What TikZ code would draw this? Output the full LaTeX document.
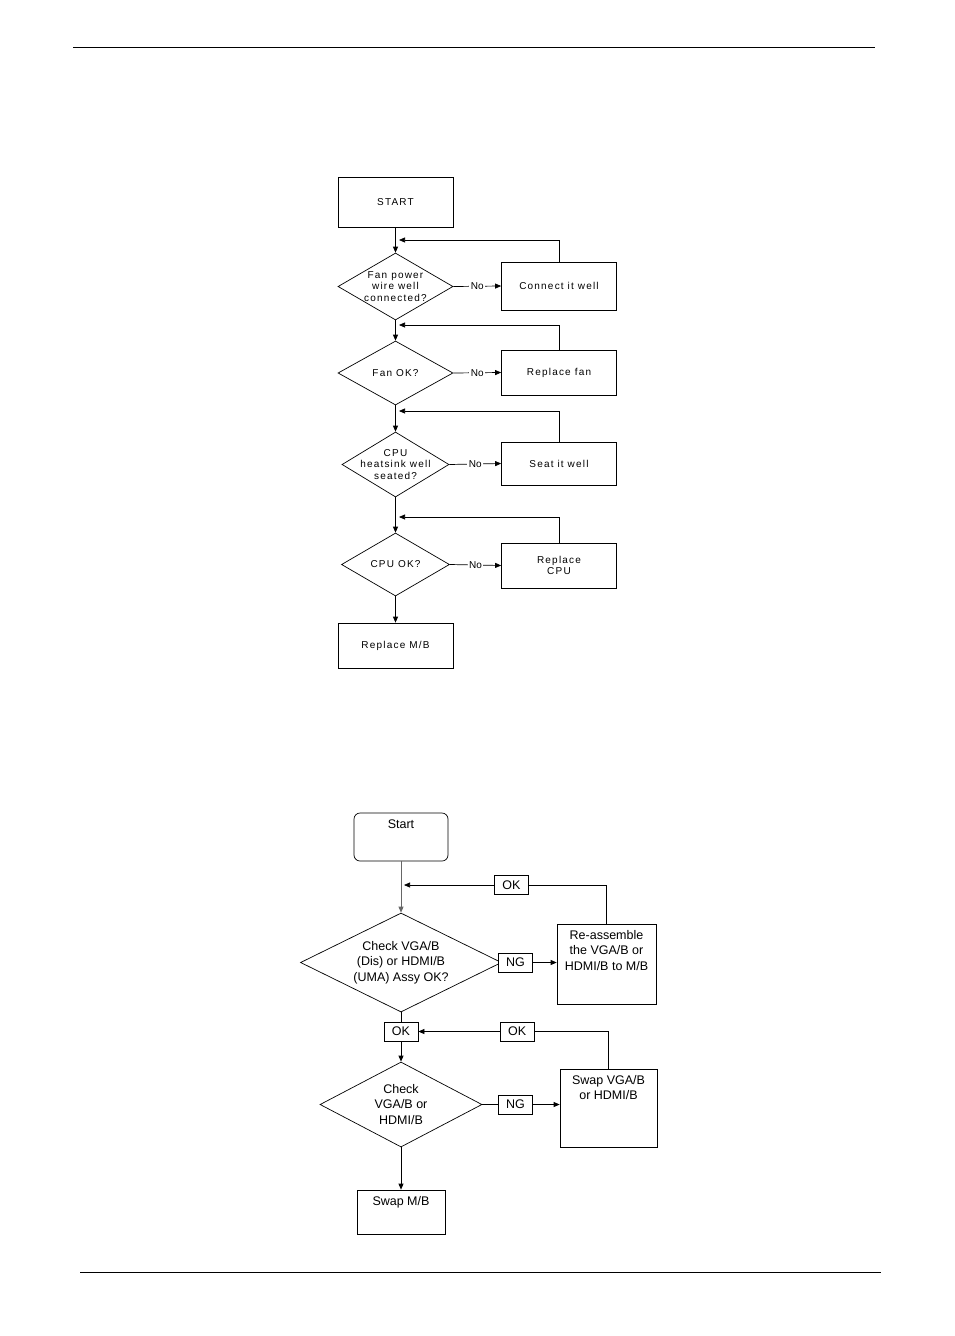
\documentclass[tikz,border=0pt]{standalone}
\usepackage{fontspec}
\setmainfont{Liberation Sans}
\newfontfamily\spacedfont[LetterSpace=12]{Liberation Sans}
\usetikzlibrary{shapes.geometric,calc,arrows.meta}

\newcommand{\topfont}{\fontsize{10}{11.5}\spacedfont}
\newcommand{\lowfont}{\fontsize{12.5}{15.5}\selectfont}

\tikzset{
  box/.style={draw, minimum width=115, minimum height=46, inner sep=0pt, align=center, font=\topfont},
  decision/.style={draw, diamond, inner sep=0pt, minimum width=115, minimum height=65},
  lowbox/.style={draw, inner sep=0pt},
  flow/.style={-{Triangle[length=6pt,width=5pt]}},
  notag/.style={fill=white, inner sep=1.5pt, font=\fontsize{10}{11}\selectfont},
  tag/.style={draw, fill=white, minimum width=34, minimum height=19, inner sep=0pt, font=\lowfont},
  toptext/.style={anchor=north, yshift=-3pt, align=center, font=\lowfont},
}

\begin{document}
\begin{tikzpicture}[x=1pt, y=-1pt, line width=0.7pt]
    \useasboundingbox (0,0) rectangle (954,1336);
    \draw[line width=1pt] (73,47) -- (875,47);
    \draw[line width=1pt] (80,1272) -- (881,1272);

    % first chart
    \node[box, minimum height=50] (start) at (395.5,202) {START};
    \node[decision, minimum height=67,
        label={[align=center, font=\topfont]center:{Fan power\\wire well\\connected?}}]
        (fanpower) at (395.5,286.5) {};
    \node[box, minimum height=48] (connect) at (559,286) {Connect it well};
    \node[decision, minimum height=64,
        label={[font=\topfont]center:{Fan OK?}}] (fanok) at (395.5,373) {};
    \node[box, minimum height=45] (replacefan) at (559,372.5) {Replace fan};
    \node[decision, minimum width=107,
        label={[align=center, font=\topfont]center:{CPU\\heatsink well\\seated?}}]
        (heatsink) at (395.5,464.5) {};
    \node[box, minimum height=43] (seat) at (559,463.5) {Seat it well};
    \node[decision, minimum width=108, minimum height=63,
        label={[font=\topfont]center:{CPU OK?}}] (cpuok) at (395.5,564.5) {};
    \node[box, minimum height=45] (replacecpu) at (559,565.5) {Replace\\CPU};
    \node[box, minimum height=45] (replacemb) at (395.5,645.5) {Replace M/B};

    \coordinate (m1) at (399,240);
    \coordinate (m2) at (399,325);
    \coordinate (m3) at (399,411);
    \coordinate (m4) at (399,517);

    \draw[flow] (start) -- (fanpower);
    \draw[flow] (fanpower) -- (fanok);
    \draw[flow] (fanok) -- (heatsink);
    \draw[flow] (heatsink) -- (cpuok);
    \draw[flow] (cpuok) -- (replacemb);

    \draw[flow] (fanpower.east) -- node[notag] {No} (connect.west);
    \draw[flow] (fanok.east) -- node[notag] {No} (replacefan.west);
    \draw[flow] (heatsink.east) -- node[notag] {No} (seat.west);
    \draw[flow] (cpuok.east) -- node[notag] {No} (replacecpu.west);

    \draw[flow] (connect.north) |- (m1);
    \draw[flow] (replacefan.north) |- (m2);
    \draw[flow] (seat.north) |- (m3);
    \draw[flow] (replacecpu.north) |- (m4);

    % second chart
    \node[lowbox, rounded corners=6pt, minimum width=94, minimum height=48,
        label={[toptext]north:Start}] (start2) at (401,837) {};
    \node[draw, diamond, inner sep=0pt, minimum width=201, minimum height=99,
        label={[align=center, font=\lowfont]center:{Check VGA/B\\(Dis) or HDMI/B\\(UMA) Assy OK?}}]
        (checkassy) at (401,962.5) {};
    \node[lowbox, minimum width=99, minimum height=80,
        label={[toptext]north:{Re-assemble\\the VGA/B or\\HDMI/B to M/B}}]
        (reassemble) at (606.5,964) {};
    \node[tag] (okmid) at (401,1031.5) {OK};
    \node[draw, diamond, inner sep=0pt, minimum width=162, minimum height=85,
        label={[align=center, font=\lowfont]center:{Check\\VGA/B or\\HDMI/B}}]
        (checkboard) at (401,1104.5) {};
    \node[lowbox, minimum width=97, minimum height=78,
        label={[toptext]north:{Swap VGA/B\\or HDMI/B}}] (swapvga) at (608.5,1108) {};
    \node[lowbox, minimum width=88, minimum height=44,
        label={[toptext]north:{Swap M/B}}] (swapmb) at (401,1212) {};

    \coordinate (m5) at (404,885);

    \draw[flow, draw=black!60] (start2.south) -- (checkassy.north);
    \draw[flow] (reassemble.north) |- node[tag, pos=0.735] (okback1) {OK} (m5);
    \draw[flow] (checkassy.east) -- node[tag, pos=0.25] (ngassy) {NG} (reassemble.west |- checkassy.east);
    \draw (checkassy.south) -- (okmid.north);
    \draw[flow] (okmid.south) -- (checkboard.north);
    \draw[flow] (swapvga.north) |- node[tag, pos=0.74] (okback2) {OK} (okmid.east);
    \draw[flow] (checkboard.east) -- node[tag, pos=0.43] (ngboard) {NG} (swapvga.west |- checkboard.east);
    \draw[flow] (checkboard.south) -- (swapmb.north);
\end{tikzpicture}
\end{document}
